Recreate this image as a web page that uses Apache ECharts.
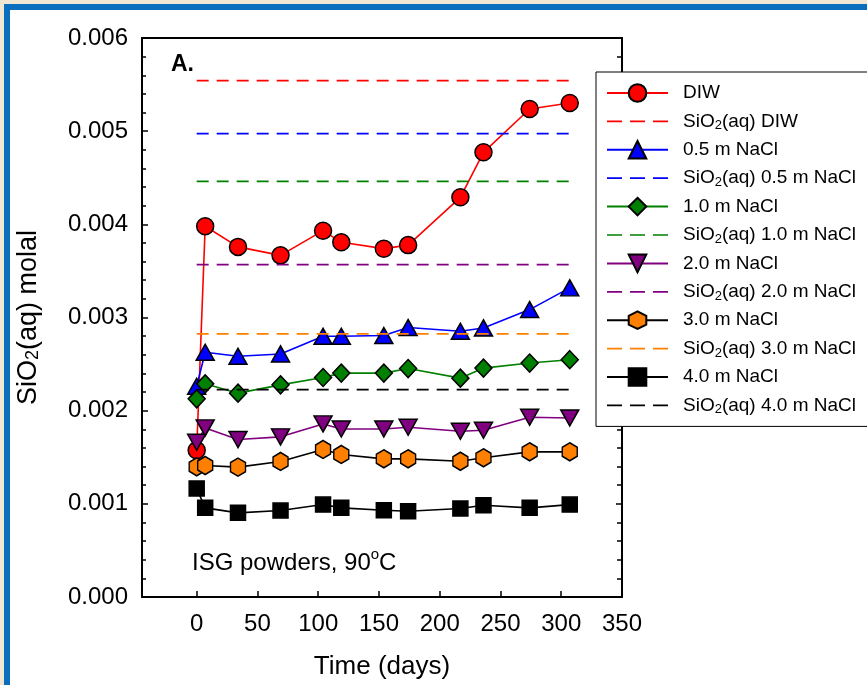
<!DOCTYPE html>
<html><head><meta charset="utf-8">
<script src="https://cdn.jsdelivr.net/npm/echarts@6/dist/echarts.min.js"></script>
<style>html,body{margin:0;padding:0;background:#EFE7D2}#c{width:867px;height:685px}</style>
</head><body><div id="c"></div>
<script>
// ---- data ----
const times = [0, 7, 34, 69, 104, 119, 154, 174, 217, 236, 274, 307];
const diw    = [0.001575, 0.003979, 0.003758, 0.003667, 0.003932, 0.003807, 0.003739, 0.003777, 0.004290, 0.004773, 0.005238, 0.005303];
const nacl05 = [0.002262, 0.002627, 0.002584, 0.002609, 0.002798, 0.002798, 0.002806, 0.002892, 0.002852, 0.002888, 0.003085, 0.003318];
const nacl10 = [0.002127, 0.002288, 0.002188, 0.002277, 0.002356, 0.002403, 0.002403, 0.002452, 0.002349, 0.002457, 0.002511, 0.002547];
const nacl20 = [0.001661, 0.001815, 0.001690, 0.001719, 0.001858, 0.001803, 0.001803, 0.001822, 0.001779, 0.001790, 0.001929, 0.001922];
const nacl30 = [0.001397, 0.001411, 0.001394, 0.001455, 0.001584, 0.001530, 0.001483, 0.001483, 0.001457, 0.001494, 0.001558, 0.001558];
const nacl40 = [0.001165, 0.000957, 0.000903, 0.000928, 0.000992, 0.000957, 0.000931, 0.000921, 0.000950, 0.000985, 0.000957, 0.000992];
// SiO2(aq) saturation levels
const satDIW = 0.005542, sat05 = 0.004973, sat10 = 0.004461, sat20 = 0.003568, sat30 = 0.002824, sat40 = 0.002226;
const satRange = [0, 308];
const xTicks = [0, 50, 100, 150, 200, 250, 300, 350];
const seriesNames = ['DIW', '0.5 m NaCl', '1.0 m NaCl', '2.0 m NaCl', '3.0 m NaCl', '4.0 m NaCl'];
const satNames = ['SiO2(aq) DIW', 'SiO2(aq) 0.5 m NaCl', 'SiO2(aq) 1.0 m NaCl', 'SiO2(aq) 2.0 m NaCl', 'SiO2(aq) 3.0 m NaCl', 'SiO2(aq) 4.0 m NaCl'];

// ---- styles ----
const FONT = "'Liberation Sans', Arial, Helvetica, sans-serif";
const HEX = 'path://M0,-1 L0.866,-0.5 L0.866,0.5 L0,1 L-0.866,0.5 L-0.866,-0.5 Z';
const solidStyles = [
  {symbol: 'circle', size: 17, fill: '#FF0000', line: '#FF0000'},
  {symbol: 'triangle', size: [18, 16], fill: '#0000FF', line: '#0000FF'},
  {symbol: 'diamond', size: [17, 18], fill: '#008000', line: '#008000'},
  {symbol: 'triangle', size: [18, 16], fill: '#800080', line: '#800080', rotate: 180},
  {symbol: HEX, size: [15, 18], fill: '#FF8000', line: '#000000'},
  {symbol: 'rect', size: 15, fill: '#000000', line: '#000000'}
];
const satColors = ['#FF0000', '#0000FF', '#008000', '#800080', '#FF8000', '#000000'];

const solidData = [diw, nacl05, nacl10, nacl20, nacl30, nacl40];
const satLevels = [satDIW, sat05, sat10, sat20, sat30, sat40];

const series = [];
solidData.forEach((arr, k) => {
  const s = solidStyles[k];
  series.push({
    name: seriesNames[k], type: 'line', z: 2,
    data: times.map((t, i) => [t, arr[i]]),
    symbol: s.symbol, symbolSize: s.size, symbolRotate: s.rotate || 0, symbolKeepAspect: false,
    showAllSymbol: true,
    lineStyle: {color: s.line, width: 1.6},
    itemStyle: {color: s.fill, borderColor: '#000', borderWidth: 1.5},
    emphasis: {disabled: true}
  });
});
satLevels.forEach((v, k) => {
  series.push({
    name: satNames[k], type: 'line', z: 3,
    data: [[satRange[0], v], [satRange[1], v]],
    symbol: 'none',
    lineStyle: {color: satColors[k], width: 1.7, type: [12, 8]},
    itemStyle: {color: 'rgba(0,0,0,0)', borderColor: 'rgba(0,0,0,0)', borderWidth: 0},
    emphasis: {disabled: true}
  });
});
const legendOrder = [];
seriesNames.forEach((n, k) => {
  legendOrder.push({name: n});
  legendOrder.push({name: satNames[k], itemStyle: {color: 'rgba(0,0,0,0)', borderColor: 'rgba(0,0,0,0)', borderWidth: 0},
    lineStyle: {color: satColors[k], width: 1.7, type: [15, 8]}});
});

const chart = echarts.init(document.getElementById('c'), null, {renderer: 'canvas'});
chart.setOption({
  animation: false,
  backgroundColor: '#EFE7D2',
  textStyle: {fontFamily: FONT},
  graphic: [
    {type: 'rect', z: -10, silent: true, shape: {x: 7, y: 7, width: 900, height: 720},
     style: {fill: '#FFFFFF', stroke: '#0A6EBE', lineWidth: 6}},
    {type: 'text', z: 10, left: 171, top: 53,
     style: {text: 'A.', font: 'bold 23px ' + FONT, fill: '#000'}},
    {type: 'text', z: 10, left: 192, top: 547,
     style: {text: '{n|ISG powders, 90}{p|o}{n|C}', fill: '#000',
       rich: {n: {fontSize: 24, fontFamily: FONT, lineHeight: 28, verticalAlign: 'bottom'},
              p: {fontSize: 15, fontFamily: FONT, lineHeight: 28, verticalAlign: 'top'}}}}
  ],
  grid: {left: 142, top: 38, width: 480, height: 560, containLabel: false},
  xAxis: [{
    type: 'value', min: -45, max: 350, position: 'bottom',
    name: 'Time (days)', nameLocation: 'middle', nameGap: 57,
    nameTextStyle: {fontSize: 26, color: '#000', fontFamily: FONT},
    axisLine: {show: true, onZero: false, lineStyle: {color: '#000', width: 2}},
    axisTick: {show: true, inside: true, length: 6, customValues: xTicks, lineStyle: {color: '#000', width: 1.5}},
    axisLabel: {show: true, customValues: xTicks, fontSize: 24, color: '#000', margin: 15, fontFamily: FONT},
    splitLine: {show: false}
  }, {
    type: 'value', min: -45, max: 350, position: 'top',
    axisLine: {show: true, onZero: false, lineStyle: {color: '#000', width: 2}},
    axisTick: {show: false}, axisLabel: {show: false}, splitLine: {show: false}
  }],
  yAxis: [{
    type: 'value', min: 0, max: 0.006, interval: 0.001, position: 'left',
    name: 'SiO{s|2}(aq) molal', nameLocation: 'middle', nameGap: 100, nameRotate: 90,
    nameTextStyle: {fontSize: 27, color: '#000', fontFamily: FONT,
      rich: {s: {fontSize: 18, fontFamily: FONT, verticalAlign: 'bottom', lineHeight: 12}}},
    axisLine: {show: true, onZero: false, lineStyle: {color: '#000', width: 2}},
    axisTick: {show: true, inside: true, length: 6, lineStyle: {color: '#000', width: 1.5}},
    minorTick: {show: true, splitNumber: 5, length: 4, lineStyle: {color: '#000', width: 1.5}},
    axisLabel: {fontSize: 24, color: '#000', margin: 14, fontFamily: FONT, formatter: v => v.toFixed(3)},
    splitLine: {show: false}
  }, {
    type: 'value', min: 0, max: 0.006, interval: 0.001, position: 'right',
    axisLine: {show: true, onZero: false, lineStyle: {color: '#000', width: 2}},
    axisTick: {show: true, inside: true, length: 6, lineStyle: {color: '#000', width: 1.5}},
    minorTick: {show: true, splitNumber: 5, length: 5, lineStyle: {color: '#000', width: 1.5}},
    axisLabel: {show: false}, splitLine: {show: false}
  }],
  legend: {
    orient: 'vertical', left: 596, top: 72, z: 20,
    data: legendOrder,
    backgroundColor: '#fff', borderColor: '#000', borderWidth: 1,
    padding: [10, 12, 10, 10],
    itemWidth: 61, itemHeight: 22, itemGap: 6.4,
    selectedMode: false,
    formatter: n => n.replace('SiO2', 'SiO{s|2}'),
    textStyle: {fontSize: 19, color: '#000', fontFamily: FONT, lineHeight: 22, padding: [0, 0, 0, 10],
      rich: {s: {fontSize: 13, fontFamily: FONT, verticalAlign: 'bottom', lineHeight: 10}}}
  },
  series: series
});
</script></body></html>
